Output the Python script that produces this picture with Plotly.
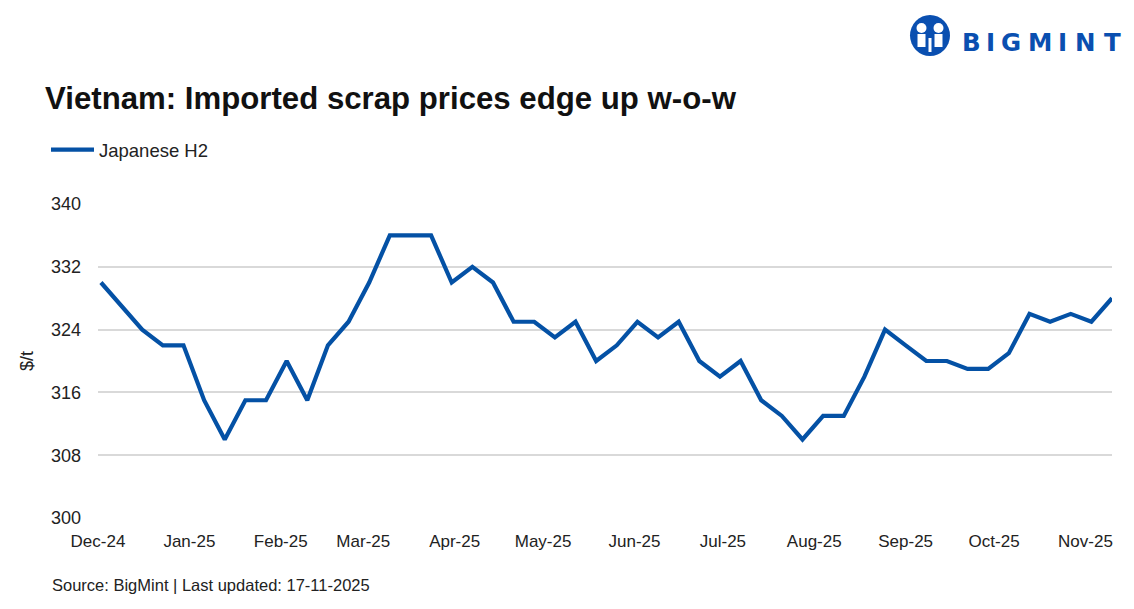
import plotly.graph_objects as go
import pandas as pd

# ---- data ----
start_date = "2024-12-02"
prices = [330, 327, 324, 322, 322, 315, 310, 315, 315, 320,
          315, 322, 325, 330, 336, 336, 336, 330, 332, 330,
          325, 325, 323, 325, 320, 322, 325, 323, 325, 320,
          318, 320, 315, 313, 310, 313, 313, 318, 324, 322,
          320, 320, 319, 319, 321, 326, 325, 326, 325, 328]
dates = pd.date_range(start_date, periods=len(prices), freq="7D")
series_name = "Japanese H2"
month_ticks = pd.date_range("2024-12-01", "2025-11-01", freq="MS")
y_ticks = [300, 308, 316, 324, 332, 340]

title_text = "Vietnam: Imported scrap prices edge up w-o-w"
source_text = "Source: BigMint | Last updated: 17-11-2025"
logo_text = "BIGMINT"

BLUE = "#0451A5"
LOGO_BLUE = "#0A4FB0"
FONT = "Liberation Sans, Arial, sans-serif"

W, H = 1134, 609
L, R, T, B = 98, 22, 204, 91
PW, PH = W - L - R, H - T - B


def pxx(xp):
    """pixel x -> paper x"""
    return (xp - L) / PW


def pxy(yp):
    """pixel y (from top) -> paper y"""
    return (H - B - yp) / PH


fig = go.Figure()
fig.add_trace(go.Scatter(
    x=dates, y=prices, mode="lines", name=series_name,
    line=dict(color=BLUE, width=4.2),
    showlegend=True,
))

fig.update_layout(
    width=W, height=H,
    paper_bgcolor="white", plot_bgcolor="white",
    margin=dict(l=L, r=R, t=T, b=B),
    font=dict(family=FONT, size=16, color="#222222"),
    title=dict(text=title_text, x=45 / W, xref="container", xanchor="left",
               y=1 - 98 / H, yref="container", yanchor="middle",
               font=dict(family=FONT, size=31.2, color="#111111", weight="bold")),
    legend=dict(orientation="h", x=46 / W, xref="container", xanchor="left",
                y=1 - 150 / H, yref="container", yanchor="middle",
                font=dict(family=FONT, size=18.5, color="#222222"),
                itemwidth=43, bgcolor="rgba(0,0,0,0)"),
    xaxis=dict(type="date", range=["2024-12-01", "2025-11-10"],
               tickvals=list(month_ticks), tickformat="%b-%y",
               showgrid=False, zeroline=False, showline=False,
               ticks="", ticklabelstandoff=11,
               tickfont=dict(family=FONT, size=17, color="#222222")),
    yaxis=dict(range=[300, 340], tickvals=y_ticks,
               showgrid=True, gridcolor="#d9d9d9", gridwidth=1.5,
               zeroline=False, showline=False, ticks="",
               ticklabelstandoff=16,
               title=dict(text="$/t", standoff=12,
                          font=dict(family=FONT, size=18, color="#222222")),
               tickfont=dict(family=FONT, size=18, color="#222222")),
)

# source note
fig.add_annotation(text=source_text, xref="paper", yref="paper",
                   x=pxx(50), y=pxy(585),
                   xanchor="left", yanchor="middle", showarrow=False,
                   font=dict(family=FONT, size=16.5, color="#222222"))

# logo: icon
fig.add_shape(type="circle", xref="paper", yref="paper",
              x0=pxx(910), x1=pxx(950), y0=pxy(56), y1=pxy(15),
              fillcolor=LOGO_BLUE, line=dict(width=0))
for cx in (921.5, 938.5):
    fig.add_shape(type="circle", xref="paper", yref="paper",
                  x0=pxx(cx - 5), x1=pxx(cx + 5), y0=pxy(33), y1=pxy(23),
                  fillcolor="white", line=dict(width=0))
    fig.add_shape(type="rect", xref="paper", yref="paper",
                  x0=pxx(cx - 4), x1=pxx(cx + 4), y0=pxy(47), y1=pxy(34),
                  fillcolor="white", line=dict(width=0))
fig.add_shape(type="rect", xref="paper", yref="paper",
              x0=pxx(928.5), x1=pxx(931.5), y0=pxy(52), y1=pxy(38),
              fillcolor="white", line=dict(width=0))

# logo: letters with wide spacing
letter_x = [971, 990, 1011, 1040, 1062.5, 1085, 1112.5]
for ch, lx in zip(logo_text, letter_x):
    fig.add_annotation(text=ch, xref="paper", yref="paper",
                       x=pxx(lx), y=pxy(42.5),
                       xanchor="center", yanchor="middle", showarrow=False,
                       font=dict(family="DejaVu Sans, sans-serif", size=24.5,
                                 color=LOGO_BLUE, weight="bold"))

fig.write_html("out.html",
               config={"displayModeBar": False},
               post_script="document.body.style.margin='0';"
                           "document.body.style.overflow='hidden';")
